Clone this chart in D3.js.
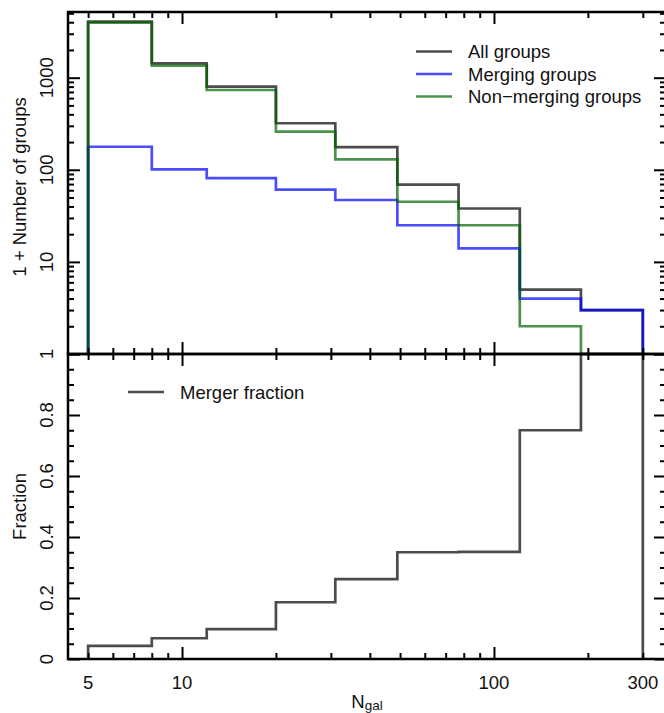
<!DOCTYPE html>
<html>
<head>
<meta charset="utf-8">
<script src="https://cdn.jsdelivr.net/npm/d3@7"></script>
<style>
  html, body { margin: 0; padding: 0; background: #fff; }
  svg { display: block; font-family: "Liberation Sans", Arial, Helvetica, sans-serif; }
</style>
</head>
<body>
<svg id="chart" width="664" height="713"></svg>
<script>
// Bin edges in N_gal (log-spaced, rounded)
const binEdges = [5, 8, 12, 20, 31, 49, 77, 121, 190, 300];

// 1 + number of groups per bin
const allGroups     = [4056, 1433, 798, 320, 176, 69, 38, 5, 3];
const mergingGroups = [178, 101, 81, 61, 47, 25, 14, 4, 3];
const nonMerging    = [3955, 1349, 735, 259, 130, 45, 25, 2, 1];

// Fraction of merging groups per bin
const mergerFraction = [0.043, 0.068, 0.098, 0.186, 0.262, 0.350, 0.351, 0.75, 1.0];

// Axis ticks
const xMajorTicks = [10, 100];
const xMinorTicks = [5, 6, 7, 8, 9, 20, 30, 40, 50, 60, 70, 80, 90, 200, 300];
const xTickLabels = [5, 10, 100, 300];
const yCountMajor = [1, 10, 100, 1000];
const yCountMinor = [2, 3, 4, 5, 6, 7, 8, 9, 20, 30, 40, 50, 60, 70, 80, 90,
                     200, 300, 400, 500, 600, 700, 800, 900, 2000, 3000, 4000, 5000];
const yFracMajor = [0, 0.2, 0.4, 0.6, 0.8, 1.0];
const yFracMinor = [0.05, 0.1, 0.15, 0.25, 0.3, 0.35, 0.45, 0.5, 0.55, 0.65, 0.7, 0.75, 0.85, 0.9, 0.95];
const yFracLabels = ["0", "0.2", "0.4", "0.6", "0.8"];

const seriesCounts = [
  { name: "All groups",         values: allGroups,     color: "black" },
  { name: "Merging groups",     values: mergingGroups, color: "blue" },
  { name: "Non\u2212merging groups", values: nonMerging, color: "darkgreen" }
];

// Layout
const L = 68, R = 666, T = 12, M = 354, B = 659;
const FONT = 18.5;

const svg = d3.select("#chart");

const x = d3.scaleLog().domain([4.31, 356]).range([L, R]);
const yCount = d3.scaleLog().domain([1, 5166]).range([M, T]);
const yFrac = d3.scaleLinear().domain([0, 1]).range([B, M]);

// Histogram outline: rises from the baseline, steps across bins, drops back.
function stepPoints(values, base) {
  const pts = [[binEdges[0], base]];
  values.forEach((v, i) => {
    pts.push([binEdges[i], v]);
    pts.push([binEdges[i + 1], v]);
  });
  pts.push([binEdges[binEdges.length - 1], base]);
  return pts;
}

const lineCount = d3.line().x(d => x(d[0])).y(d => yCount(d[1]));
const lineFrac = d3.line().x(d => x(d[0])).y(d => yFrac(d[1]));

// Histogram lines, top panel
seriesCounts.forEach(s => {
  svg.append("path")
    .attr("d", lineCount(stepPoints(s.values, 1)))
    .attr("fill", "none")
    .attr("stroke", s.color)
    .attr("stroke-opacity", 0.7)
    .attr("stroke-width", 2.7);
});

// Merger fraction, bottom panel
svg.append("path")
  .attr("d", lineFrac(stepPoints(mergerFraction, 0)))
  .attr("fill", "none")
  .attr("stroke", "black")
  .attr("stroke-opacity", 0.7)
  .attr("stroke-width", 2.7);

// Tick helper: inward-pointing ticks without domain path or labels
function ticks(axisFn, scale, values, size, transform) {
  const g = svg.append("g")
    .attr("transform", transform)
    .call(axisFn(scale).tickValues(values).tickSize(-size).tickSizeOuter(0).tickFormat(""));
  g.select(".domain").remove();
  g.selectAll(".tick line").attr("stroke", "black").attr("stroke-width", 2);
  g.selectAll("text").remove();
  return g;
}

// X ticks: bottom, middle (both directions), top
[[d3.axisBottom, B], [d3.axisBottom, M], [d3.axisTop, M], [d3.axisTop, T]].forEach(([fn, yy]) => {
  ticks(fn, x, xMajorTicks, 12, `translate(0,${yy})`);
  ticks(fn, x, xMinorTicks, 6, `translate(0,${yy})`);
});

// Y ticks, top panel (left and right)
ticks(d3.axisLeft, yCount, yCountMajor, 12, `translate(${L},0)`);
ticks(d3.axisLeft, yCount, yCountMinor, 6, `translate(${L},0)`);
ticks(d3.axisRight, yCount, yCountMajor, 12, `translate(${R},0)`);
ticks(d3.axisRight, yCount, yCountMinor, 6, `translate(${R},0)`);

// Y ticks, bottom panel (left and right)
ticks(d3.axisLeft, yFrac, yFracMajor, 12, `translate(${L},0)`);
ticks(d3.axisLeft, yFrac, yFracMinor, 6, `translate(${L},0)`);
ticks(d3.axisRight, yFrac, yFracMajor, 12, `translate(${R},0)`);
ticks(d3.axisRight, yFrac, yFracMinor, 6, `translate(${R},0)`);

// Panel frames
svg.append("rect").attr("x", L).attr("y", T).attr("width", R - L).attr("height", M - T)
  .attr("fill", "none").attr("stroke", "black").attr("stroke-width", 2.5);
svg.append("rect").attr("x", L).attr("y", M).attr("width", R - L).attr("height", B - M)
  .attr("fill", "none").attr("stroke", "black").attr("stroke-width", 2.5);

// X tick labels
svg.append("g").selectAll("text").data(xTickLabels).join("text")
  .attr("x", d => x(d)).attr("y", 689)
  .attr("text-anchor", "middle").attr("font-size", FONT).attr("fill", "#111")
  .text(d => d);

// Y tick labels (rotated)
svg.append("g").selectAll("text").data(yCountMajor).join("text")
  .attr("transform", d => `translate(53,${yCount(d)}) rotate(-90)`)
  .attr("text-anchor", "middle").attr("font-size", FONT).attr("fill", "#111")
  .text(d => d);
svg.append("g").selectAll("text").data(yFracLabels).join("text")
  .attr("transform", d => `translate(53,${yFrac(+d)}) rotate(-90)`)
  .attr("text-anchor", "middle").attr("font-size", FONT).attr("fill", "#111")
  .text(d => d);

// Axis titles
svg.append("text")
  .attr("transform", `translate(26,${(T + M) / 2 + 4}) rotate(-90)`)
  .attr("text-anchor", "middle").attr("font-size", FONT).attr("fill", "#111")
  .text("1 + Number of groups");
svg.append("text")
  .attr("transform", `translate(26,${(M + B) / 2}) rotate(-90)`)
  .attr("text-anchor", "middle").attr("font-size", FONT).attr("fill", "#111")
  .text("Fraction");

const xt = svg.append("text")
  .attr("x", (L + R) / 2).attr("y", 708)
  .attr("text-anchor", "middle").attr("font-size", FONT).attr("fill", "#111");
xt.append("tspan").text("N");
xt.append("tspan").attr("font-size", 13.5).attr("dy", 2).text("gal");

// Legend, top panel
const leg = svg.append("g");
seriesCounts.forEach((s, i) => {
  const yy = 51.5 + i * 22.5;
  leg.append("line").attr("x1", 416).attr("x2", 452).attr("y1", yy).attr("y2", yy)
    .attr("stroke", s.color).attr("stroke-opacity", 0.7).attr("stroke-width", 2.7);
  leg.append("text").attr("x", 468).attr("y", yy + 6.6)
    .attr("font-size", FONT).attr("fill", "#111").text(s.name);
});

// Legend, bottom panel
svg.append("line").attr("x1", 128).attr("x2", 164).attr("y1", 392).attr("y2", 392)
  .attr("stroke", "black").attr("stroke-opacity", 0.7).attr("stroke-width", 2.7);
svg.append("text").attr("x", 180).attr("y", 398.6)
  .attr("font-size", FONT).attr("fill", "#111").text("Merger fraction");
</script>
</body>
</html>
